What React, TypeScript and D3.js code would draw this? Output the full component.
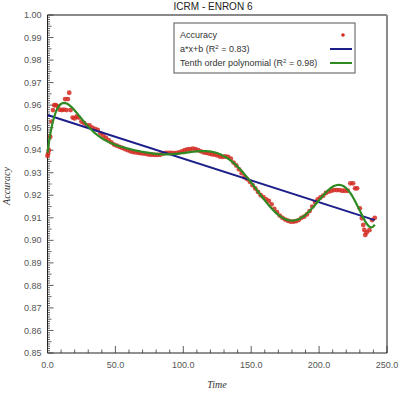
import React from 'react';
import * as d3 from 'd3';

// readings: time step vs. accuracy
const time = [
  0, 0.5, 1, 2, 3, 4, 5, 6, 7.5, 9, 10.5, 12, 13, 14, 15, 16, 17, 18.5, 20, 21.5,
  23, 25, 27, 29, 31, 33, 35, 37, 39, 41, 43, 45, 47, 49, 51, 53, 55, 57, 59, 61,
  63, 65, 67, 69, 71, 73, 75, 77, 79, 81, 83, 85, 87, 89, 91, 93, 95, 97, 99, 101,
  103, 105, 107, 109, 111, 113, 115, 117, 119, 121, 123, 125, 127, 129, 131, 133, 135, 137, 139, 141,
  143, 145, 147, 149, 151, 153, 155, 157, 159, 161, 163, 165, 167, 169, 171, 173, 175, 177, 179, 181,
  183, 185, 187, 189, 191, 193, 195, 197, 199, 201, 203, 205, 207, 209, 211, 213, 215, 217, 219, 221,
  223, 225, 226.5, 228, 230, 231.5, 232.5, 233.3, 234, 235, 237, 239, 241
];
const accuracy = [
  0.9375, 0.9385, 0.940, 0.946, 0.9527, 0.9578, 0.960, 0.960, 0.9595, 0.958, 0.9578, 0.958, 0.9627, 0.9578, 0.9627, 0.9655, 0.9578, 0.9545, 0.9541, 0.955,
  0.9545, 0.9527, 0.952, 0.951, 0.951, 0.950, 0.9495, 0.949, 0.9475, 0.9465, 0.9455, 0.9445, 0.9435, 0.9425, 0.942, 0.9415, 0.941, 0.9405, 0.940, 0.9395,
  0.9392, 0.939, 0.9388, 0.9386, 0.9385, 0.9383, 0.938, 0.938, 0.9379, 0.9379, 0.938, 0.9385, 0.9388, 0.9388, 0.9388, 0.9387, 0.9388, 0.939, 0.9395, 0.940,
  0.9403, 0.9405, 0.9407, 0.9405, 0.940, 0.9395, 0.939, 0.9388, 0.9385, 0.9382, 0.938, 0.9377, 0.9372, 0.937, 0.9372, 0.937, 0.9362, 0.9345, 0.9332, 0.9315,
  0.9298, 0.928, 0.9272, 0.926, 0.9245, 0.923, 0.9215, 0.920, 0.9192, 0.9182, 0.9175, 0.916, 0.914, 0.9125, 0.911, 0.910, 0.9092, 0.9087, 0.9083, 0.9083,
  0.9085, 0.909, 0.910, 0.9105, 0.9115, 0.913, 0.915, 0.917, 0.9182, 0.919, 0.9198, 0.921, 0.9216, 0.922, 0.9223, 0.9223, 0.9223, 0.922, 0.922, 0.922,
  0.9253, 0.9253, 0.9231, 0.9231, 0.9142, 0.9098, 0.9068, 0.9046, 0.9024, 0.9035, 0.9045, 0.909, 0.910
];

const yTicks = [0.85, 0.86, 0.87, 0.88, 0.89, 0.90, 0.91, 0.92, 0.93, 0.94, 0.95, 0.96, 0.97, 0.98, 0.99, 1.00];
const xTicks = [0, 50, 100, 150, 200, 250];
const legendLabels = ['Accuracy', 'a*x+b (R', 'Tenth order polynomial (R'];
const legendR2 = ['', '0.83', '0.98'];

const RED = '#d42a22';
const BLUE = '#1c1f8a';
const GREEN = '#2f8a22';

// least squares polynomial, x scaled to [-1,1] so the normal equations behave
function polyfit(xs: number[], ys: number[], deg: number) {
  const c = 120, s = 120;
  const n = deg + 1;
  const A = Array.from({ length: n }, () => new Array(n + 1).fill(0));
  xs.forEach((x, i) => {
    const u = (x - c) / s;
    const p = [1];
    for (let k = 1; k <= 2 * deg; k++) p.push(p[k - 1] * u);
    for (let j = 0; j < n; j++) {
      for (let k = 0; k < n; k++) A[j][k] += p[j + k];
      A[j][n] += p[j] * ys[i];
    }
  });
  for (let col = 0; col < n; col++) {
    let piv = col;
    for (let r = col + 1; r < n; r++) if (Math.abs(A[r][col]) > Math.abs(A[piv][col])) piv = r;
    [A[col], A[piv]] = [A[piv], A[col]];
    for (let r = 0; r < n; r++) {
      if (r === col) continue;
      const f = A[r][col] / A[col][col];
      for (let k = col; k <= n; k++) A[r][k] -= f * A[col][k];
    }
  }
  const coef = A.map((row, i) => row[n] / row[i]);
  return (x: number) => {
    const u = (x - c) / s;
    let v = 0;
    for (let k = n - 1; k >= 0; k--) v = v * u + coef[k];
    return v;
  };
}

export default function App() {
  const width = 402, height = 400;
  const mL = 47.5, mR = 15, mT = 15, mB = 47;

  const x = d3.scaleLinear().domain([0, 250]).range([mL, width - mR]);
  const y = d3.scaleLinear().domain([0.85, 1.0]).range([height - mB, mT]);

  const pts = time.map((t, i) => ({ t, v: accuracy[i] }));
  const lin = polyfit(time, accuracy, 1);
  const poly = polyfit(time, accuracy, 10);
  const tMin = d3.min(time)!, tMax = d3.max(time)!;
  const samples = d3.range(0, 201).map(i => tMin + (tMax - tMin) * i / 200);

  const line = d3.line<number>().x(t => x(t)).y(t => y(poly(t))).curve(d3.curveLinear);

  const minorY = d3.range(850, 1001).map(k => k / 1000);
  const minorX = d3.range(0, 251, 10);

  const fontSans = 'Arial, "Liberation Sans", sans-serif';

  return (
    <svg width={width} height={height} style={{ position: 'absolute', left: 0, top: 0, background: '#fff' }}>
      <text x={213} y={10} textAnchor="middle" fontFamily={fontSans} fontSize={10} fill="#222">ICRM - ENRON 6</text>

      {/* frame: top/right grey, left/bottom black */}
      <line x1={mL} x2={width - mR} y1={mT} y2={mT} stroke="#8a8a8a" strokeWidth={2} />
      <line x1={width - mR} x2={width - mR} y1={mT} y2={height - mB} stroke="#8a8a8a" strokeWidth={2} />
      <line x1={mL} x2={mL} y1={mT} y2={height - mB} stroke="#222" strokeWidth={1} />
      <line x1={mL} x2={width - mR} y1={height - mB} y2={height - mB} stroke="#222" strokeWidth={1} />

      {minorY.map((v, i) => {
        const k = Math.round(v * 1000);
        const len = k % 10 === 0 ? 6 : k % 5 === 0 ? 4 : 2.5;
        return <line key={'my' + i} x1={mL} x2={mL + len} y1={y(v)} y2={y(v)} stroke="#333" strokeWidth={0.8} />;
      })}
      {minorX.map((t, i) => {
        const len = t % 50 === 0 ? 7 : 3.5;
        return <line key={'mx' + i} x1={x(t)} x2={x(t)} y1={height - mB} y2={height - mB - len} stroke="#333" strokeWidth={0.8} />;
      })}

      {yTicks.map(v => (
        <text key={'yt' + v} x={mL - 6} y={y(v)} dy="0.35em" textAnchor="end" fontFamily={fontSans} fontSize={9} fill="#555">{v.toFixed(2)}</text>
      ))}
      {xTicks.map(t => (
        <text key={'xt' + t} x={x(t)} y={height - mB + 15} textAnchor="middle" fontFamily={fontSans} fontSize={9} fill="#555">{t.toFixed(1)}</text>
      ))}

      <text x={217} y={388} textAnchor="middle" fontFamily='"Liberation Serif", "DejaVu Serif", serif' fontStyle="italic" fontSize={10} fill="#333">Time</text>
      <text transform={`translate(10,${186}) rotate(-90)`} textAnchor="middle" fontFamily='"Liberation Serif", "DejaVu Serif", serif' fontStyle="italic" fontSize={10} fill="#333">Accuracy</text>

      {/* data */}
      {pts.map((d, i) => (
        <circle key={'p' + i} cx={x(d.t)} cy={y(d.v)} r={2.4} fill={RED} fillOpacity={0.85} />
      ))}
      <line x1={x(tMin)} x2={x(tMax)} y1={y(lin(tMin))} y2={y(lin(tMax))} stroke={BLUE} strokeWidth={2} />
      <path d={line(samples) || ''} fill="none" stroke={GREEN} strokeWidth={2.2} />

      {/* legend */}
      <rect x={174} y={23} width={181} height={50} fill="#fff" stroke="#555" strokeWidth={1} />
      {legendLabels.map((lab, i) => {
        const ly = 35 + i * 14;
        return (
          <g key={'lg' + i}>
            <text x={180} y={ly} dy="0.35em" fontFamily={fontSans} fontSize={9} fill="#333">
              {lab}
              {i > 0 && <tspan dy="-3" fontSize={6}>2</tspan>}
              {i > 0 && <tspan dy="3">{' = ' + legendR2[i] + ')'}</tspan>}
            </text>
            {i === 0 && <circle cx={343} cy={ly} r={1.8} fill={RED} />}
            {i === 1 && <line x1={330} x2={352} y1={ly} y2={ly} stroke={BLUE} strokeWidth={2} />}
            {i === 2 && <line x1={330} x2={352} y1={ly} y2={ly} stroke={GREEN} strokeWidth={2} />}
          </g>
        );
      })}
    </svg>
  );
}
